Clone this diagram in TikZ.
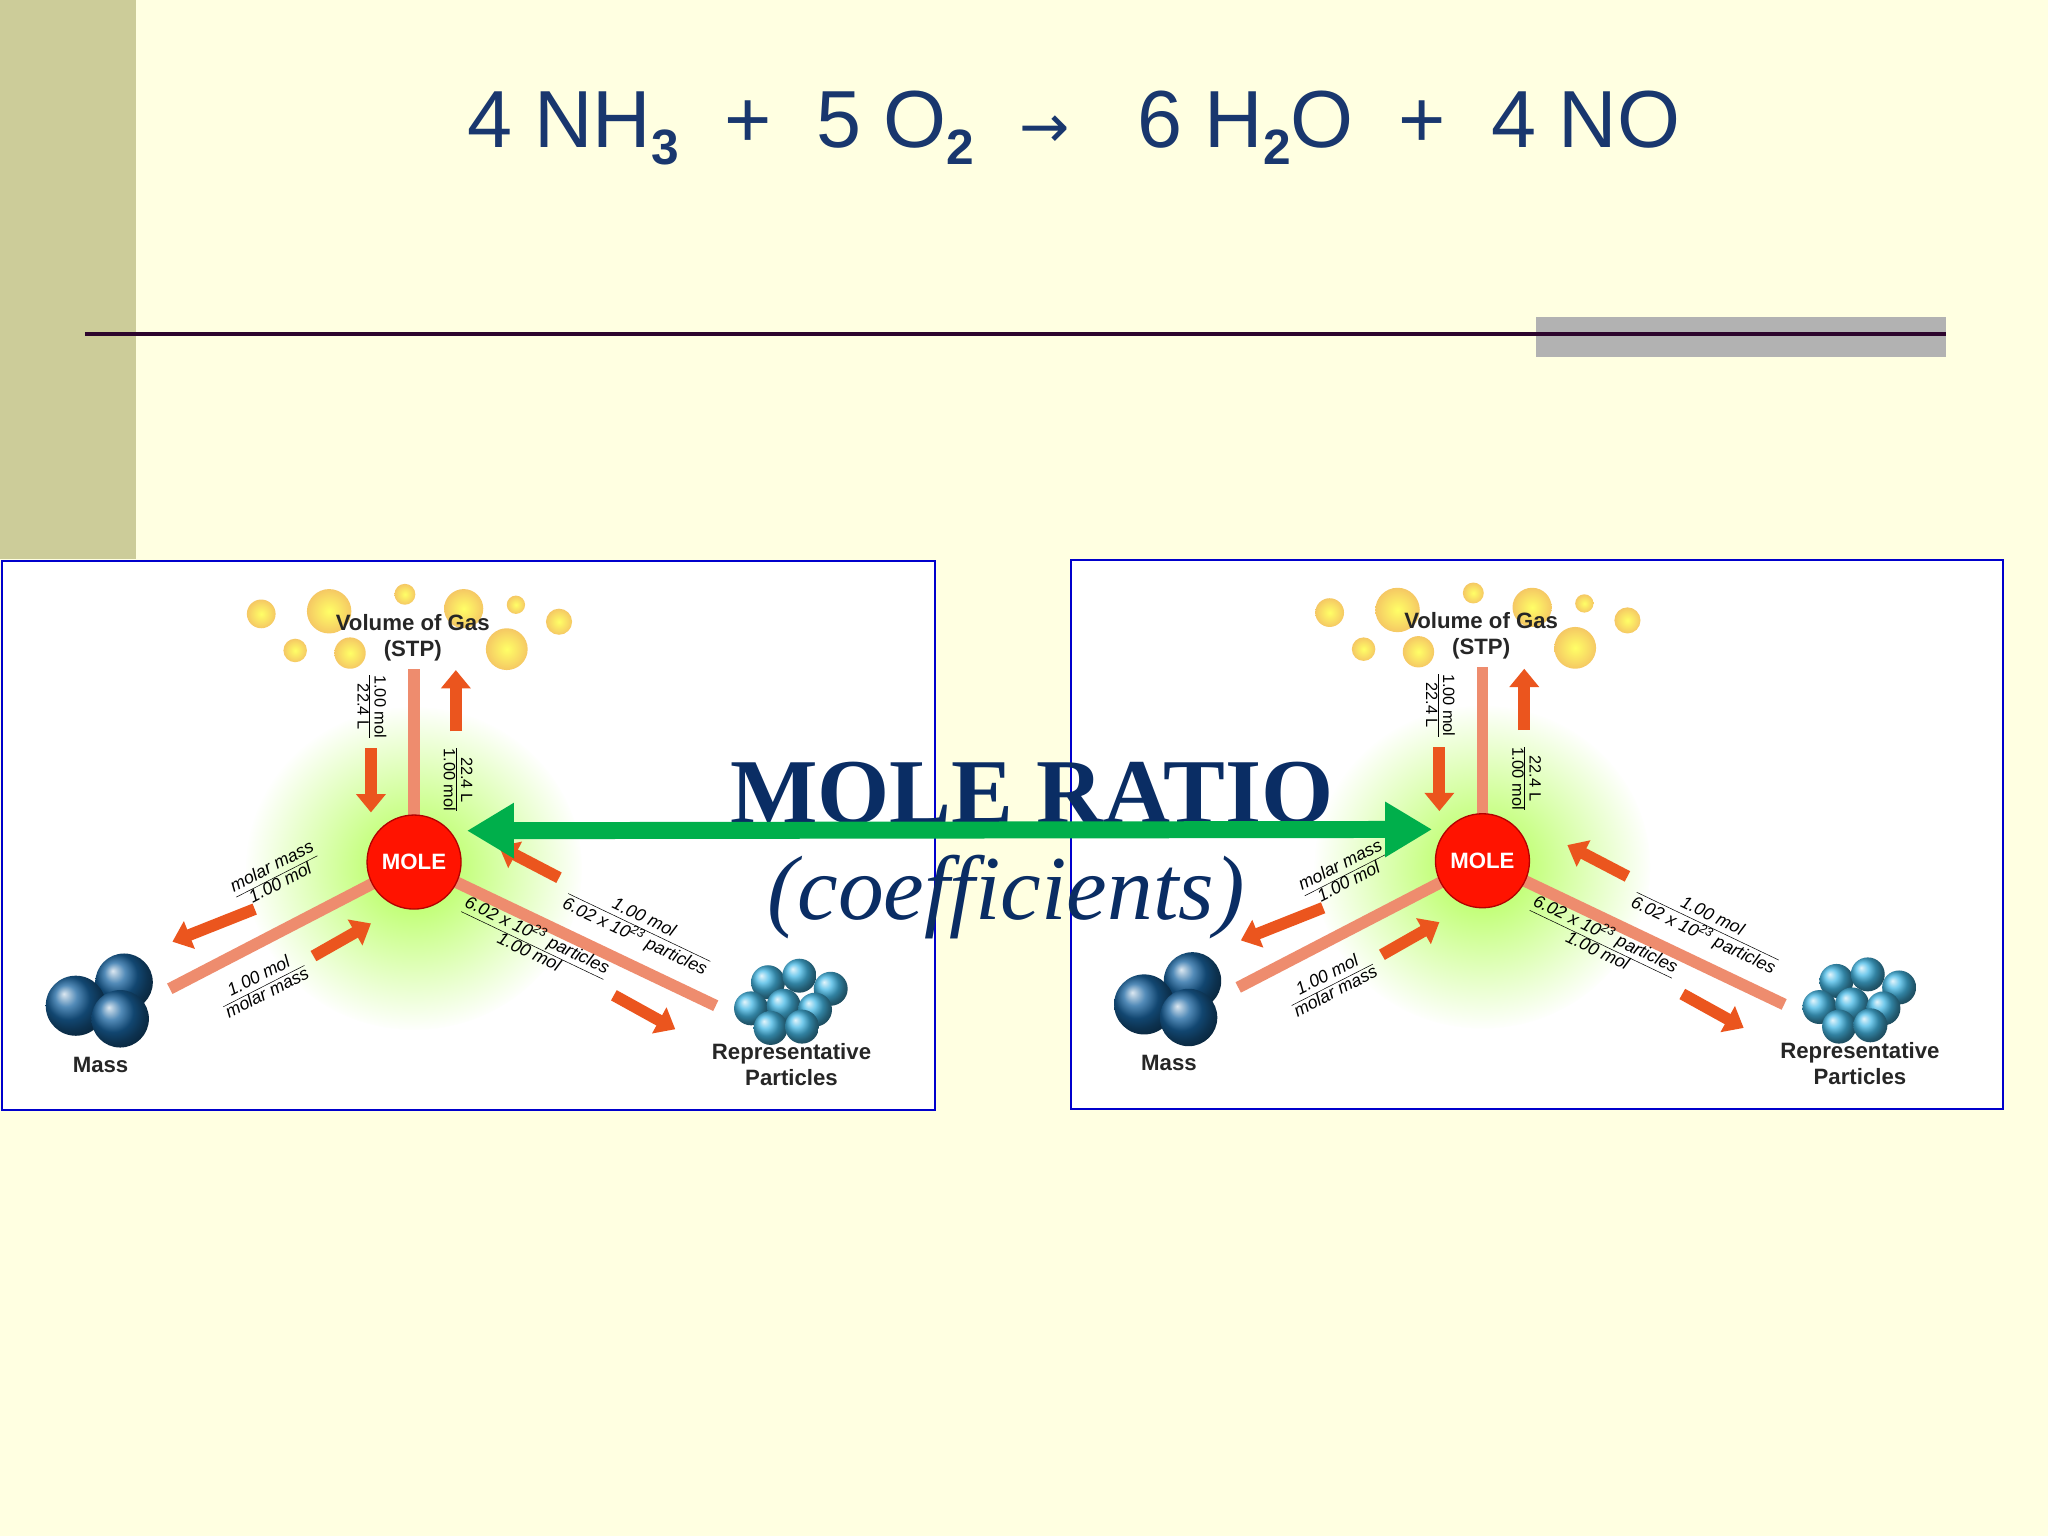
\documentclass[tikz,border=0pt]{standalone}
\usepackage{fontspec}
\setmainfont{Liberation Sans}
\newfontfamily\serifm{Liberation Serif}
\newfontfamily\arrowfont{DejaVu Sans}
\usetikzlibrary{arrows.meta}
\definecolor{bg}{RGB}{255,255,225}
\definecolor{bar}{RGB}{204,204,153}
\definecolor{ttl}{RGB}{25,55,110}
\definecolor{navy}{RGB}{10,45,100}
\definecolor{salmon}{RGB}{238,140,110}
\definecolor{orng}{RGB}{235,85,30}
\definecolor{gasy}{RGB}{245,200,100}
\definecolor{massb}{RGB}{25,100,160}
\definecolor{partb}{RGB}{70,185,230}
\definecolor{grn}{RGB}{0,175,75}
\newcommand{\tsub}[1]{\raisebox{-0.4ex}{\fontsize{38}{38}\selectfont\bfseries #1}}
\tikzset{
 axisline/.style={salmon,line width=9pt},
 oarr/.style={orng,line width=9pt,-{Triangle[width=22pt,length=14pt]}},
 lbl/.style={font=\fontsize{12.5}{12.5}\selectfont,inner sep=0pt},
 dlbl/.style={inner sep=0pt,font=\itshape\fontsize{13.5}{13.5}\selectfont},
 massball/.style={ball color=massb,draw=none},
 partball/.style={ball color=partb,draw=none},
 capt/.style={font=\bfseries\fontsize{17}{20}\selectfont,align=center,text=black!85},
 molenode/.style={circle,fill=red!85!orange,draw=red!70!black,line width=1pt,minimum size=72pt,inner sep=0pt,text=white,font=\bfseries\fontsize{17}{17}\selectfont}
}
\newcommand{\molepanel}[1]{%
 \node[draw=blue!80!black,line width=1.5pt,fill=white,minimum width=714pt,minimum height=420pt,anchor=north west] (#1box) at (1,429) {};
 \fill[inner color=green!45!yellow!70,outer color=white] (317,665) ellipse (130pt and 125pt);
 \draw[white,line width=3pt] (317,665) ellipse (130pt and 125pt);
 \foreach \x/\y/\r in {200/470/11,252/468/17,310/455/8,355/466/15,395/463/7,428/476/10,226/498/9,268/500/12,388/497/16}{\shade[inner color=yellow!60,outer color=gasy] (\x,\y) circle (\r pt);}
 \coordinate (#1top) at (317,512);
 \coordinate (#1left) at (130,757);
 \coordinate (#1right) at (548,770);
 \coordinate (#1c) at (317,660);
 \draw[axisline] (#1c) -- (#1top);
 \draw[axisline] (#1c) -- (#1left);
 \draw[axisline] (#1c) -- (#1right);
 \node[molenode] (#1mole) at (#1c) {MOLE};
 \coordinate (#1a1) at (284,573); \coordinate (#1a1e) at (284,622);
 \coordinate (#1a2) at (349,560); \coordinate (#1a2e) at (349,513);
 \coordinate (#1a3) at (195,696); \coordinate (#1a3e) at (132,721);
 \coordinate (#1a4) at (240,732); \coordinate (#1a4e) at (284,707);
 \coordinate (#1a5) at (428,672); \coordinate (#1a5e) at (382,648);
 \coordinate (#1a6) at (470,762); \coordinate (#1a6e) at (517,788);
 \foreach \s in {1,...,6}{\draw[oarr] (#1a\s) -- (#1a\s e);}
 \node[lbl,rotate=-90] (#1l1) at (283,541) {\begin{tabular}{@{}c@{}}1.00 mol\\\hline 22.4 L\end{tabular}};
 \node[lbl,rotate=-90] (#1l2) at (349,597) {\begin{tabular}{@{}c@{}}22.4 L\\\hline 1.00 mol\end{tabular}};
 \node[dlbl,rotate=27] (#1l3) at (212,671) {\begin{tabular}{@{}c@{}}molar mass\\\hline 1.00 mol\end{tabular}};
 \node[dlbl,rotate=27] (#1l4) at (202,755) {\begin{tabular}{@{}c@{}}1.00 mol\\\hline molar mass\end{tabular}};
 \node[dlbl,rotate=-25.5] (#1l5) at (489,711) {\begin{tabular}{@{}c@{}}1.00 mol\\\hline 6.02 x 10\textsuperscript{23} particles\end{tabular}};
 \node[dlbl,rotate=-25.5] (#1l6) at (408,723) {\begin{tabular}{@{}c@{}}6.02 x 10\textsuperscript{23} particles\\\hline 1.00 mol\end{tabular}};
 \foreach \x/\y/\r in {95/752/22,58/770/23,92/780/22}{\shade[massball] (\x,\y) circle (\r pt);}
 \foreach \x/\y in {588/752,612/747,636/757,575/772,600/770,624/773,590/787,614/786}{\shade[partball] (\x,\y) circle (13pt);}
 \node[capt] (#1gas) at (316,488) {Volume of Gas\\(STP)};
 \node[capt] (#1mass) at (77,815) {Mass};
 \node[capt] (#1part) at (606,815) {Representative\\Particles};
}
\begin{document}
\begin{tikzpicture}[x=1pt,y=-1pt]
\useasboundingbox (0,0) rectangle (1568,1176);
\fill[bg] (0,0) rectangle (1568,1176);
\fill[bar] (0,0) rectangle (104,428);
\fill[black!30] (1176,243) rectangle (1490,273);
\draw[line width=3pt,color={rgb,255:red,45;green,5;blue,45}] (65,256) -- (1490,256);
\node[text=ttl,font=\fontsize{62}{62}\selectfont] (title) at (822,98) {4 NH\tsub{3} \ +\ \ 5 O\tsub{2} \ {\arrowfont\fontsize{46}{46}\selectfont →} \ \ 6 H\tsub{2}O \ +\ \ 4 NO};
\begin{scope}\molepanel{L}\end{scope}
\begin{scope}[shift={(818,-1)}]\molepanel{R}\end{scope}
\node[text=navy,font=\serifm\bfseries\fontsize{71}{71}\selectfont] (ratio) at (790,607) {MOLE RATIO};
\node[text=navy,font=\serifm\itshape\fontsize{70}{70}\selectfont] (coef) at (770,687) {(coefficients)};
\draw[grn,line width=13pt,{Triangle[width=40pt,length=36pt]}-{Triangle[width=40pt,length=36pt]}] ([xshift=4pt,yshift=24pt]Lmole.east) -- ([xshift=-2pt,yshift=24pt]Rmole.west);
\end{tikzpicture}
\end{document}
